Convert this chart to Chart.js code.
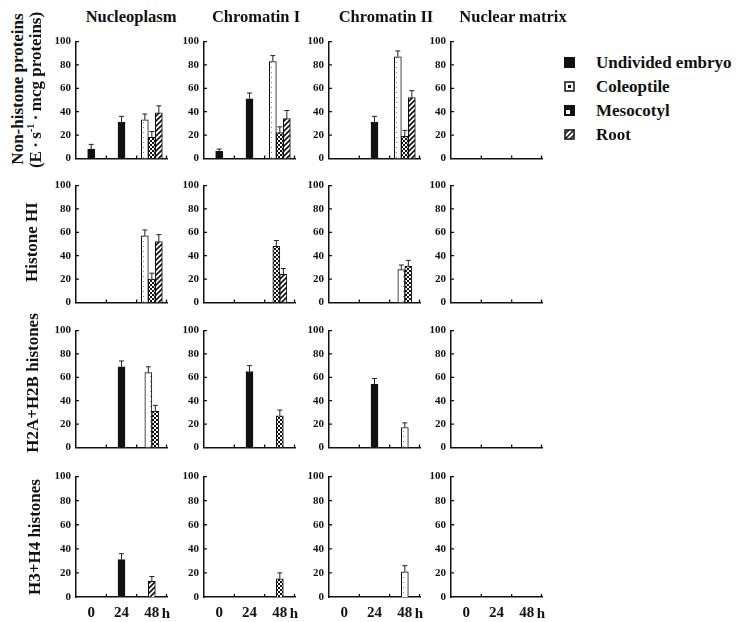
<!DOCTYPE html>
<html>
<head>
<meta charset="utf-8">
<script src="https://cdn.jsdelivr.net/npm/chart.js@4.4.0/dist/chart.umd.min.js"></script>
<style>
  body { margin: 0; background: #fff; }
  #page { position: relative; width: 737px; height: 622px; overflow: hidden;
          font-family: "Liberation Serif", "Times New Roman", serif; font-weight: bold; color: #111; }
  .abs { position: absolute; white-space: nowrap; line-height: 1; }
  .title { font-size: 16.5px; transform: translate(-50%, -50%); }
  .rowlab { font-size: 17px; transform: translate(-50%, -50%) rotate(-90deg); }
  .hlab { font-size: 15px; transform: translate(-50%, -50%); }
  .leg { font-size: 17px; transform: translateY(-50%); }
  canvas { position: absolute; }
</style>
</head>
<body>
<div id="page"></div>
<script>
'use strict';
// categories
var hours = ['0', '24', '48'];
var fractions = ['Nucleoplasm', 'Chromatin I', 'Chromatin II', 'Nuclear matrix'];
var proteins = ['Non-histone proteins', 'Histone HI', 'H2A+H2B histones', 'H3+H4 histones'];
var organs = ['Undivided embryo', 'Coleoptile', 'Mesocotyl', 'Root'];
var yTicks = [0, 20, 40, 60, 80, 100];

// per fraction: [embryo 0 h, embryo 24 h, coleoptile 48 h, mesocotyl 48 h, root 48 h]
var nonHistone    = [[8, 31, 33, 18, 39], [6, 51, 83, 22, 34], [null, 31, 87, 19, 52], [null, null, null, null, null]];
var nonHistoneErr = [[4, 5, 5, 5, 6], [2, 5, 5, 5, 7], [null, 5, 5, 5, 6], [null, null, null, null, null]];
var histoneH1     = [[null, null, 57, 20, 52], [null, null, null, 48, 24], [null, null, 28, 31, null], [null, null, null, null, null]];
var histoneH1Err  = [[null, null, 5, 5, 6], [null, null, null, 5, 5], [null, null, 4, 5, null], [null, null, null, null, null]];
var h2aH2b        = [[null, 69, 64, 31, null], [null, 65, null, 27, null], [null, 54, 17, null, null], [null, null, null, null, null]];
var h2aH2bErr     = [[null, 5, 5, 5, null], [null, 5, null, 5, null], [null, 5, 4, null, null], [null, null, null, null, null]];
var h3h4          = [[null, 31, null, null, 13], [null, null, null, 15, null], [null, null, 21, null, null], [null, null, null, null, null]];
var h3h4Err       = [[null, 5, null, null, 4], [null, null, null, 5, null], [null, null, 5, null, null], [null, null, null, null, null]];

var rowValues = [nonHistone, histoneH1, h2aH2b, h3h4];
var rowErrors = [nonHistoneErr, histoneH1Err, h2aH2bErr, h3h4Err];

var FONT = '"Liberation Serif", "Times New Roman", serif';
var INK = '#111';
var colX = [76, 204, 329, 451];   // y axis position of each column
var rowY = [38, 182, 327, 473];   // pixel of the "100" tick of each row
var plotW = 91, plotH = 124, axisW = 34, padTop = 8, padRight = 8;

var page = document.getElementById('page');

function addText(cls, txt, x, y, html) {
    var d = document.createElement('div');
    d.className = 'abs ' + cls;
    if (html) d.innerHTML = txt; else d.textContent = txt;
    d.style.left = x + 'px';
    d.style.top = y + 'px';
    page.appendChild(d);
    return d;
}

// fill patterns
function makePattern(kind) {
    var c = document.createElement('canvas');
    var g = c.getContext('2d');
    if (kind === 'dots') {
        c.width = 7; c.height = 5;
        g.fillStyle = '#fff'; g.fillRect(0, 0, 7, 5);
        g.fillStyle = '#888'; g.fillRect(3, 2, 1, 1);
    } else if (kind === 'checker') {
        c.width = 4; c.height = 4;
        g.fillStyle = '#111'; g.fillRect(0, 0, 4, 4);
        g.fillStyle = '#fff'; g.fillRect(0, 0, 2, 2); g.fillRect(2, 2, 2, 2);
    } else {
        c.width = 5; c.height = 5;
        g.fillStyle = '#fff'; g.fillRect(0, 0, 5, 5);
        g.strokeStyle = '#111'; g.lineWidth = 1.6;
        g.beginPath();
        g.moveTo(-1, 6); g.lineTo(6, -1);
        g.moveTo(-1, 1); g.lineTo(1, -1);
        g.moveTo(4, 6); g.lineTo(6, 4);
        g.stroke();
    }
    return g.createPattern(c, 'repeat');
}
var fills = [INK, makePattern('dots'), makePattern('checker'), makePattern('hatch')];

var errorBars = {
    id: 'errorBars',
    afterDatasetsDraw: function (chart) {
        var ctx = chart.ctx, y = chart.scales.y;
        chart.data.datasets.forEach(function (ds, i) {
            chart.getDatasetMeta(i).data.forEach(function (bar, j) {
                var v = ds.data[j], e = ds.errors[j];
                if (v == null || e == null) return;
                var top = y.getPixelForValue(v + e);
                ctx.save();
                ctx.strokeStyle = '#222';
                ctx.lineWidth = 1;
                ctx.beginPath();
                ctx.moveTo(bar.x, bar.y); ctx.lineTo(bar.x, top);
                ctx.moveTo(bar.x - 2.5, top); ctx.lineTo(bar.x + 2.5, top);
                ctx.stroke();
                ctx.restore();
            });
        });
    }
};

var tickMarks = {
    id: 'tickMarks',
    afterDraw: function (chart) {
        var ctx = chart.ctx, a = chart.chartArea, x = chart.scales.x, y = chart.scales.y;
        ctx.save();
        ctx.strokeStyle = INK;
        ctx.lineWidth = 1.3;
        ctx.beginPath();
        y.ticks.forEach(function (t) {
            if (t.value <= 0) return;
            var py = y.getPixelForValue(t.value);
            ctx.moveTo(a.left, py); ctx.lineTo(a.left + 3, py);
        });
        for (var i = 1; i <= hours.length; i++) {
            var px = i < hours.length ? (x.getPixelForValue(i - 1) + x.getPixelForValue(i)) / 2 : a.right - 0.5;
            ctx.moveTo(px, a.bottom); ctx.lineTo(px, a.bottom - 3);
        }
        ctx.stroke();
        ctx.restore();
    }
};

function panel(r, c) {
    var vals = rowValues[r][c], errs = rowErrors[r][c];
    var bottom = r === 3;
    var xh = bottom ? 30 : 8;
    var cv = document.createElement('canvas');
    cv.width = axisW + plotW + padRight;
    cv.height = padTop + plotH + xh;
    cv.style.left = (colX[c] - axisW) + 'px';
    cv.style.top = (rowY[r] - padTop) + 'px';
    page.appendChild(cv);

    var series = [
        [vals[0], vals[1], null],
        [null, null, vals[2]],
        [null, null, vals[3]],
        [null, null, vals[4]]
    ];
    var seriesErr = [
        [errs[0], errs[1], null],
        [null, null, errs[2]],
        [null, null, errs[3]],
        [null, null, errs[4]]
    ];
    var datasets = organs.map(function (name, k) {
        return {
            label: name,
            data: series[k],
            errors: seriesErr[k],
            backgroundColor: fills[k],
            borderColor: INK,
            borderWidth: 1,
            borderSkipped: 'bottom',
            skipNull: true,
            barThickness: 7
        };
    });

    new Chart(cv.getContext('2d'), {
        type: 'bar',
        data: { labels: hours, datasets: datasets },
        options: {
            responsive: false,
            animation: false,
            devicePixelRatio: 1,
            layout: { padding: { top: padTop, right: padRight, left: 0, bottom: 0 } },
            plugins: { legend: { display: false }, tooltip: { enabled: false } },
            scales: {
                x: {
                    grid: { display: false, drawTicks: false },
                    border: { display: true, color: INK, width: 1.5 },
                    ticks: { display: bottom, color: INK, padding: 7, maxRotation: 0,
                             font: { family: FONT, size: 15, weight: 'bold' } },
                    afterFit: function (s) { s.height = xh; }
                },
                y: {
                    min: 0, max: 100,
                    afterBuildTicks: function (s) { s.ticks = yTicks.map(function (v) { return { value: v }; }); },
                    grid: { display: false, drawTicks: false },
                    border: { display: true, color: INK, width: 1.5 },
                    ticks: { color: INK, padding: 5, font: { family: FONT, size: 11, weight: 'bold' } },
                    afterFit: function (s) { s.width = axisW; }
                }
            }
        },
        plugins: [errorBars, tickMarks]
    });

    if (bottom) addText('hlab', 'h', colX[c] + 90, rowY[r] + plotH + 16);
}

for (var r = 0; r < 4; r++) {
    for (var c = 0; c < 4; c++) panel(r, c);
}

// column titles
var titleX = [131, 256, 386, 513];
fractions.forEach(function (f, i) { addText('title', f, titleX[i], 17); });

// row labels
addText('rowlab', proteins[0], 17, 89);
addText('rowlab', '(E\u2009\u00B7\u2009s<sup style="font-size:10px">-1</sup>\u2009\u00B7\u2009mcg proteins)', 35, 90, true);
addText('rowlab', proteins[1], 31, 242);
addText('rowlab', proteins[2], 32, 383);
addText('rowlab', proteins[3], 34, 537);

// legend
var legY = [62, 86, 110, 134];
organs.forEach(function (name, k) {
    var ic = document.createElement('canvas');
    ic.width = 11; ic.height = 11;
    ic.style.left = '564px';
    ic.style.top = (legY[k] - 5) + 'px';
    page.appendChild(ic);
    var g = ic.getContext('2d');
    if (k === 0) {
        g.fillStyle = INK; g.fillRect(0, 0, 11, 11);
    } else if (k === 1) {
        g.fillStyle = '#fff'; g.fillRect(0, 0, 11, 11);
        g.strokeStyle = INK; g.lineWidth = 1.5; g.strokeRect(1, 1, 9, 9);
        g.fillStyle = INK; g.fillRect(4, 4, 3, 3);
    } else if (k === 2) {
        g.fillStyle = INK; g.fillRect(0, 0, 11, 11);
        g.fillStyle = '#fff'; g.fillRect(2, 5, 4, 4);
    } else {
        g.fillStyle = '#fff'; g.fillRect(0, 0, 11, 11);
        g.strokeStyle = INK; g.lineWidth = 1.5; g.strokeRect(1, 1, 9, 9);
        g.beginPath(); g.moveTo(1, 10); g.lineTo(10, 1); g.moveTo(1, 5); g.lineTo(5, 1); g.moveTo(6, 10); g.lineTo(10, 6); g.stroke();
    }
    addText('leg', name, 596, legY[k]);
});
</script>
</body>
</html>
